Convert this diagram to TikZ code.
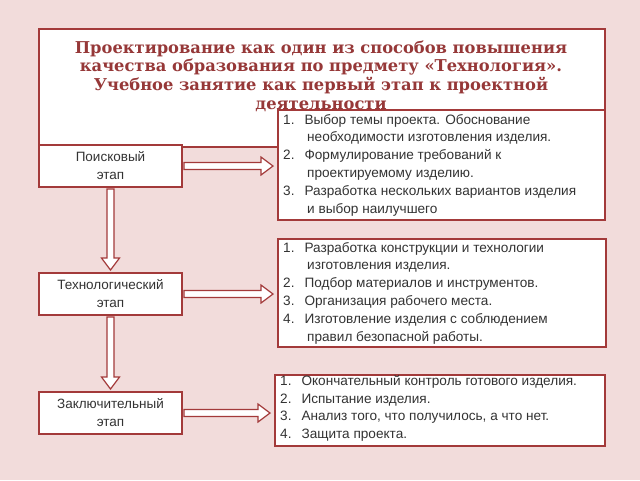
\documentclass[tikz,border=0pt]{standalone}
\usepackage{fontspec}
\setmainfont{Liberation Sans}
\newfontfamily\titlefont{DejaVu Serif}
\usetikzlibrary{calc}
\definecolor{bg}{HTML}{F2DCDB}
\definecolor{brd}{HTML}{A33A3A}
\definecolor{ttl}{HTML}{963838}
\definecolor{txt}{HTML}{333333}
\tikzset{
 box/.style={draw=brd,line width=2pt,fill=white,inner sep=0pt,anchor=north west},
 hol/.style={draw=brd,line width=1.2pt,fill=white,line join=miter},
}
\newcommand{\harrow}[2]{%
 \coordinate (h) at (#1.east -| #2.west);
 \draw[hol] ($(#1.east)+(1,3.5)$) -- ($(h)+(-16,3.5)$) -- ($(h)+(-16,9)$) -- ($(h)+(-4,0)$) -- ($(h)+(-16,-9)$) -- ($(h)+(-16,-3.5)$) -- ($(#1.east)+(1,-3.5)$) -- cycle;}
\newcommand{\varrow}[2]{%
 \draw[hol] ($(#1.south)+(-3.5,1)$) -- ($(#2.north)+(-3.5,-14)$) -- ($(#2.north)+(-9,-14)$) -- ($(#2.north)+(0,-2)$) -- ($(#2.north)+(9,-14)$) -- ($(#2.north)+(3.5,-14)$) -- ($(#1.south)+(3.5,1)$) -- cycle;}
\begin{document}
\begin{tikzpicture}[x=1pt,y=-1pt]
\fill[bg] (0,0) rectangle (640,480);
\useasboundingbox (0,0) rectangle (640,480);
% title
\node[box,line width=1.5pt,minimum width=566pt,minimum height=118pt] (T) at (38,28) {};
\node[text=ttl,align=center,font=\titlefont\bfseries\fontsize{16.3}{18.8}\selectfont,anchor=north] (Tt) at (321,37)
 {Проектирование как один из способов повышения\\качества образования по предмету «Технология».\\Учебное занятие как первый этап к проектной\\деятельности};
% left boxes
\tikzset{lbox/.style={box,minimum width=143pt,minimum height=42pt},
 ltxt/.style={text=txt,align=center,font=\fontsize{13.5}{18}\selectfont}}
\node[lbox] (A) at (38,144) {};
\node[ltxt] (At) at (A.center) {Поисковый\\этап};
\node[lbox] (B) at (38,272) {};
\node[ltxt] (Bt) at (B.center) {Технологический\\этап};
\node[lbox] (C) at (38,391) {};
\node[ltxt] (Ct) at (C.center) {Заключительный\\этап};
% right boxes
\tikzset{lst/.style={text=txt,font=\fontsize{13.6}{17.8}\selectfont,anchor=north west,align=left,inner sep=0pt}}
\node[box,minimum width=327pt,minimum height=110pt] (P) at (277,109) {};
\node[lst] (Pt) at (283,114) {1.\hspace{10pt}Выбор темы проекта. Обоснование\\\hspace{24pt}необходимости изготовления изделия.\\2.\hspace{10pt}Формулирование требований к\\\hspace{24pt}проектируемому изделию.\\3.\hspace{10pt}Разработка нескольких вариантов изделия\\\hspace{24pt}и выбор наилучшего};
\node[box,minimum width=328pt,minimum height=108pt] (Q) at (277,238) {};
\node[lst] (Qt) at (283,242) {1.\hspace{10pt}Разработка конструкции и технологии\\\hspace{24pt}изготовления изделия.\\2.\hspace{10pt}Подбор материалов и инструментов.\\3.\hspace{10pt}Организация рабочего места.\\4.\hspace{10pt}Изготовление изделия с соблюдением\\\hspace{24pt}правил безопасной работы.};
\node[box,minimum width=330pt,minimum height=71pt] (R) at (274,374) {};
\node[lst] (Rt) at (280,375) {1.\hspace{10pt}Окончательный контроль готового изделия.\\2.\hspace{10pt}Испытание изделия.\\3.\hspace{10pt}Анализ того, что получилось, а что нет.\\4.\hspace{10pt}Защита проекта.};
% arrows
\harrow{A}{P}
\harrow{B}{Q}
\harrow{C}{R}
\varrow{A}{B}
\varrow{B}{C}
\end{tikzpicture}
\end{document}
